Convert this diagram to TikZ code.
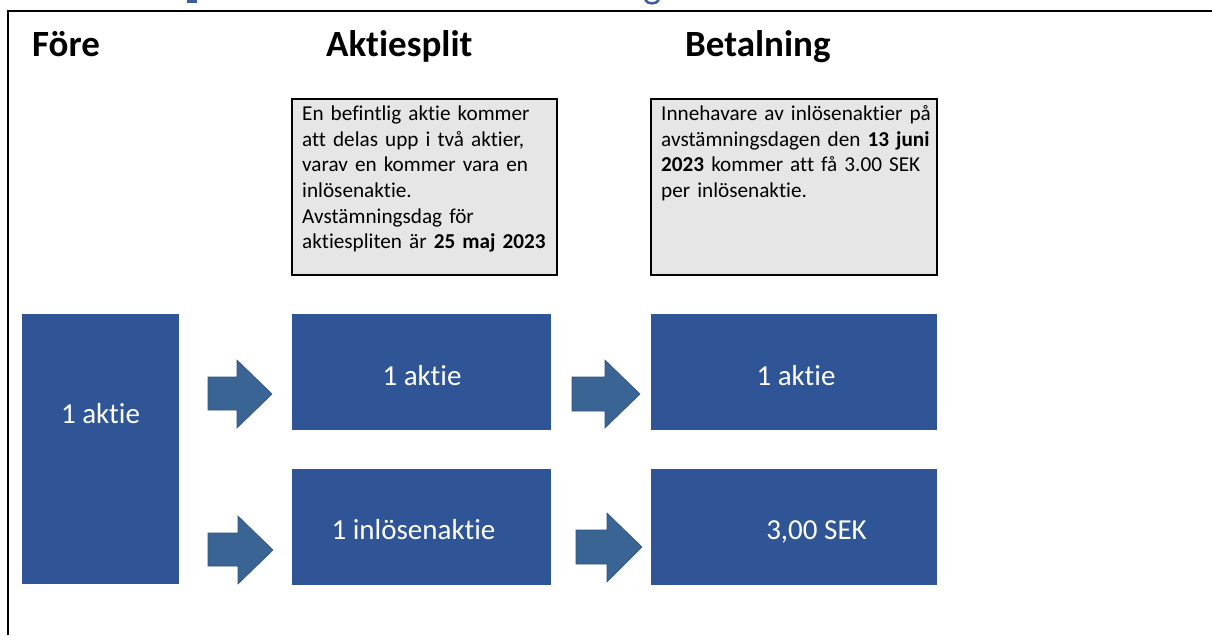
\documentclass[tikz,border=0pt]{standalone}
\usepackage{fontspec}
\setmainfont{Carlito}[Ligatures=NoCommon]
\definecolor{boxblue}{HTML}{2F5597}
\definecolor{arrowblue}{HTML}{3A6493}
\definecolor{arrowedge}{HTML}{2E5385}
\definecolor{greyfill}{HTML}{E7E6E6}
\definecolor{titleblue}{HTML}{3B5E9A}
\tikzset{
  heading/.style={anchor=base west, inner sep=0pt, font=\fontsize{37}{44}\selectfont\bfseries},
  bluebox/.style={rectangle, fill=boxblue, draw=none, inner sep=0pt},
  bluetext/.style={anchor=base, inner sep=0pt, text=white, font=\fontsize{29}{34}\selectfont},
  greybox/.style={rectangle, fill=greyfill, draw=black, line width=2pt, inner sep=0pt},
  greytext/.style={anchor=north west, inner sep=0pt, text width=270pt, align=left, font=\fontsize{21.2}{25.6}\selectfont},
  blockarrow/.style={fill=arrowblue, draw=arrowedge, line width=0.6pt, line join=miter}
}
\begin{document}
\begin{tikzpicture}[x=1pt, y=-1pt]
\useasboundingbox (0,0) rectangle (1212,635);
\fill[white] (0,0) rectangle (1212,635);
% clipped title fragments
\fill[titleblue] (187,0) rectangle (197,3);
\draw[titleblue, line width=2.5pt] (645,0) .. controls (648,4.5) and (656,4.5) .. (659,0);
% frame
\draw[line width=2pt] (8,635) -- (8,10.5) -- (1212,10.5);
% headings
\node[heading] (h1) at (32,56) {Före};
\node[heading] (h2) at (326,56) {Aktiesplit};
\node[heading] (h3) at (685,56) {Betalning};
% grey boxes
\node[greybox, minimum width=265pt, minimum height=176pt] (g1) at (424.5,186.5) {};
\node[greytext] (t1) at (302,102.5) {\rule{0pt}{18pt}En befintlig aktie kommer\\att delas upp i två aktier,\\varav en kommer vara en\\inlösenaktie.\\Avstämningsdag för\\aktiespliten är \textbf{25 maj 2023}};
\node[greybox, minimum width=286pt, minimum height=176pt] (g2) at (794,186.5) {};
\node[greytext] (t2) at (661,102.5) {\rule{0pt}{18pt}Innehavare av inlösenaktier på\\avstämningsdagen den \textbf{13 juni}\\\textbf{2023} kommer att få 3.00 SEK\\per inlösenaktie.};
% blue boxes
\node[bluebox, minimum width=157pt, minimum height=270pt] (b0) at (100.5,449) {};
\node[bluetext] (l0) at (100.5,423) {1 aktie};
\node[bluebox, minimum width=259pt, minimum height=116pt] (b1) at (421.5,372) {};
\node[bluetext] (l1) at (422,385) {1 aktie};
\node[bluebox, minimum width=259pt, minimum height=116pt] (b2) at (421.5,526.5) {};
\node[bluetext] (l2) at (413.5,539) {1 inlösenaktie};
\node[bluebox, minimum width=286pt, minimum height=116pt] (b3) at (794,372) {};
\node[bluetext] (l3) at (796,385) {1 aktie};
\node[bluebox, minimum width=286pt, minimum height=116pt] (b4) at (794,526.5) {};
\node[bluetext] (l4) at (816.5,539) {3,00 SEK};
% block arrows
\filldraw[blockarrow] (208,377) -- (237,377) -- (237,360) -- (272,394) -- (237,428) -- (237,410) -- (208,410) -- cycle;
\filldraw[blockarrow] (208,533) -- (238,533) -- (238,516) -- (273,550) -- (238,584) -- (238,566) -- (208,566) -- cycle;
\filldraw[blockarrow] (572,377) -- (605,377) -- (605,360) -- (640,394) -- (605,428) -- (605,411) -- (572,411) -- cycle;
\filldraw[blockarrow] (576,530) -- (607,530) -- (607,513) -- (642,547) -- (607,582) -- (607,564) -- (576,564) -- cycle;
\end{tikzpicture}
\end{document}
